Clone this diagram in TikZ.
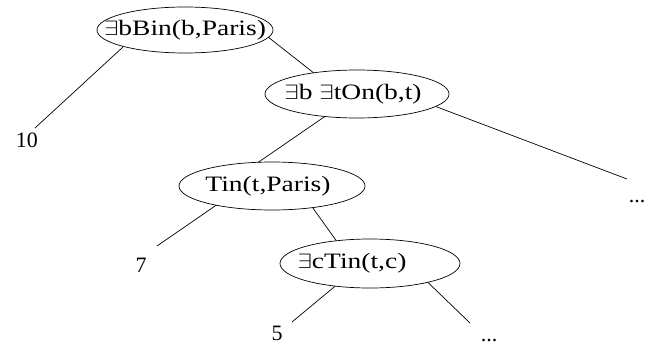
\documentclass[tikz,border=0pt]{standalone}
\usepackage{fontspec}
\usepackage{graphicx}
\setmainfont{Liberation Serif}
\usetikzlibrary{shapes.geometric}
\newcommand\elltext[2]{\makebox[0pt][c]{\kern#1pt\scalebox{1.25}[1]{#2}\kern-#1pt}}
\tikzset{
  ell/.style={ellipse, draw, line width=0.7pt, inner sep=0pt, outer sep=0pt,
    font=\fontsize{22}{24}\selectfont},
  edge/.style={line width=0.7pt},
  leaf/.style={inner sep=0pt, font=\fontsize{22}{24}\selectfont}
}
\begin{document}
\begin{tikzpicture}[x=1pt,y=-1pt]
\useasboundingbox (0,0) rectangle (660,356);
% ellipse nodes
\node[ell, minimum width=176pt, minimum height=46pt] (e1) at (185,30) {\elltext{0}{$\exists$bBin(b,Paris)}};
\node[ell, minimum width=184pt, minimum height=48pt] (e2) at (357,94) {\elltext{-4}{$\exists$b $\exists$tOn(b,t)}};
\node[ell, minimum width=186pt, minimum height=48pt] (e3) at (272,186) {\elltext{-4}{Tin(t,Paris)}};
\node[ell, minimum width=180pt, minimum height=49pt] (e4) at (370,263.5) {\elltext{-18}{$\exists$cTin(t,c)}};
% leaf labels
\node[leaf] (l10) at (27,140) {10};
\node[leaf] (l7) at (141,265) {7};
\node[leaf] (l5) at (277,333) {5};
\node[leaf] (dA) at (637,202) {...};
\node[leaf] (dB) at (489,341) {...};
% free ends
\coordinate (c10) at (35,128);
\coordinate (c7) at (157,246);
\coordinate (c5) at (292,322);
\coordinate (cdA) at (627,179);
\coordinate (cdB) at (470,323);
% connectors
\draw[edge] (e1.195) -- (c10);
\draw[edge] (e1.355) -- (e2.154);
\draw[edge] (e2.215) -- (e3.120);
\draw[edge] (e2.351) -- (cdA);
\draw[edge] (e3.199) -- (c7);
\draw[edge] (e3.332) -- (e4.146);
\draw[edge] (e4.213) -- (c5);
\draw[edge] (e4.342) -- (cdB);
\end{tikzpicture}
\end{document}
